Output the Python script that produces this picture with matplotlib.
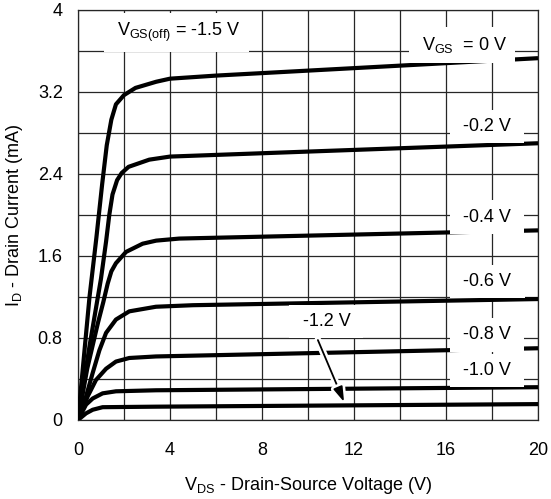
import numpy as np
import matplotlib
matplotlib.use("Agg")
import matplotlib.pyplot as plt
import matplotlib.patheffects as pe

plt.rcParams['font.family'] = 'Liberation Sans'
plt.rcParams['font.size'] = 13

# ---- data (V_DS in V, I_D in mA) ----
vgs_labels = ['0 V', '-0.2 V', '-0.4 V', '-0.6 V', '-0.8 V', '-1.0 V', '-1.2 V']

vds_0 = [0, 0.5, 0.8, 1.05, 1.25, 1.45, 1.65, 2.0, 2.5, 3.4, 4, 6, 20]
id_0 = [0, 1.2, 1.78, 2.3, 2.68, 2.93, 3.08, 3.17, 3.24, 3.30, 3.33, 3.36, 3.53]

vds_02 = [0, 0.5, 1.0, 1.22, 1.36, 1.5, 1.7, 1.9, 2.2, 3.1, 4, 20]
id_02 = [0, 0.72, 1.38, 1.74, 2.0, 2.2, 2.34, 2.41, 2.47, 2.54, 2.57, 2.70]

vds_04 = [0, 0.4, 0.87, 1.1, 1.29, 1.45, 1.65, 2.09, 2.81, 3.4, 4.4, 20]
id_04 = [0, 0.5, 0.95, 1.15, 1.33, 1.45, 1.53, 1.64, 1.72, 1.75, 1.77, 1.85]

vds_06 = [0, 0.35, 0.64, 0.93, 1.22, 1.65, 2.23, 3.39, 5, 20]
id_06 = [0, 0.23, 0.46, 0.68, 0.85, 0.98, 1.06, 1.105, 1.12, 1.18]

vds_08 = [0, 0.42, 0.78, 1.22, 1.65, 2.23, 3.39, 20]
id_08 = [0, 0.23, 0.39, 0.50, 0.57, 0.605, 0.62, 0.70]

vds_10 = [0, 0.35, 0.64, 1.07, 1.65, 3.39, 20]
id_10 = [0, 0.15, 0.21, 0.26, 0.28, 0.29, 0.32]

vds_12 = [0, 0.35, 0.64, 1.07, 3.39, 20]
id_12 = [0, 0.065, 0.10, 0.125, 0.13, 0.155]

curves = [(vds_0, id_0), (vds_02, id_02), (vds_04, id_04), (vds_06, id_06),
          (vds_08, id_08), (vds_10, id_10), (vds_12, id_12)]

x_ticks = [0, 4, 8, 12, 16, 20]
y_ticks = [0, 0.8, 1.6, 2.4, 3.2, 4]
y_ticklabels = ['0', '0.8', '1.6', '2.4', '3.2', '4']

# label positions (data coords)
label_pos = [(16.7, 3.66), (17.8, 2.86), (17.8, 1.98), (17.8, 1.35),
             (17.8, 0.83), (17.8, 0.48), (10.8, 0.96)]

#========#
# figure #
#========#
fig = plt.figure(figsize=(5.51, 4.99), dpi=100)
ax = fig.add_axes([78/551, 1 - 420/499, 460/551, 410/499])

for v, i in curves:
    ax.plot(v, i, color='black', lw=3.0, solid_joinstyle='round',
            solid_capstyle='butt', zorder=3)

ax.set_xlim(0, 20)
ax.set_ylim(0, 4)
ax.set_xticks(x_ticks)
ax.set_xticks(np.arange(0, 21, 2), minor=True)
ax.set_yticks(y_ticks)
ax.set_yticklabels(y_ticklabels)
ax.set_yticks(np.arange(0, 4.01, 0.4), minor=True)
ax.grid(True, which='both', color='0.15', lw=0.9, zorder=1)
ax.set_axisbelow(True)
ax.tick_params(which='both', length=0)
ax.tick_params(axis='x', pad=16)
ax.tick_params(axis='y', pad=11)
for s in ax.spines.values():
    s.set_linewidth(0.9)
    s.set_color('0.15')

box = dict(boxstyle='square,pad=0.45', fc='white', ec='none')

# V_GS labels
for k, (lab, (lx, ly)) in enumerate(zip(vgs_labels, label_pos)):
    if k == 0:
        txt = r' V$_{\mathregular{GS}}$  = 0 V '
    else:
        txt = ' ' + lab + ' '
    ax.text(lx, ly, txt, ha='center', va='center', bbox=box, zorder=5)

ax.text(4.27, 3.78, r' V$_{\mathregular{GS(off)}}$ = -1.5 V ', ha='center',
        va='center', bbox=box, zorder=5)

# arrow for -1.2 V
ax.annotate('', xy=(11.57, 0.175), xytext=(10.43, 0.78),
            arrowprops=dict(arrowstyle='-|>,head_length=0.7,head_width=0.22',
                            color='black', lw=1.3, shrinkA=0, shrinkB=0,
                            path_effects=[pe.withStroke(linewidth=5, foreground='white')]),
            zorder=6)

fig.text(15/551, 1 - 215/499, r'I$_{\mathregular{D}}$ - Drain Current (mA)',
         rotation=90, ha='center', va='center')
fig.text(308/551, 1 - 485/499, r'V$_{\mathregular{DS}}$ - Drain-Source Voltage (V)',
         ha='center', va='center')

fig.savefig('out.png', dpi=100)
